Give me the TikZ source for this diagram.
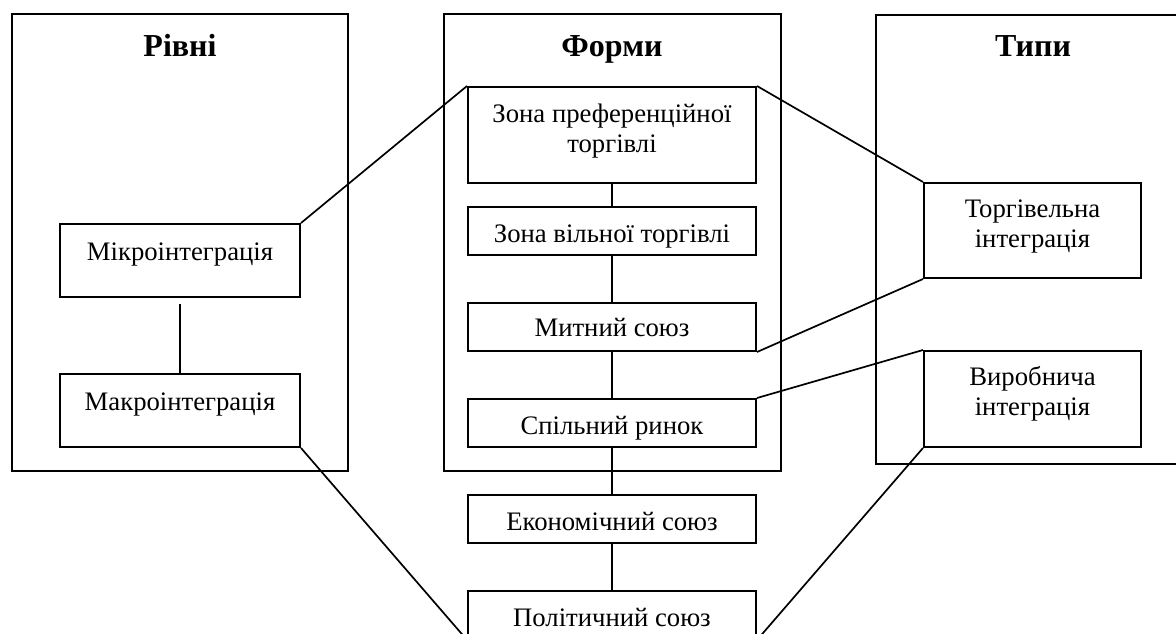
\documentclass[tikz,border=0pt]{standalone}
\usepackage{fontspec}
\setmainfont{Liberation Serif}
\usetikzlibrary{calc}
\begin{document}
\begin{tikzpicture}[x=1pt,y=-1pt,
  frame/.style={draw, line width=2pt, inner sep=0pt, anchor=north west},
  box/.style={draw, line width=2pt, fill=white, inner sep=0pt, anchor=north west},
  txt/.style={inner sep=0pt, anchor=base, font=\fontsize{26.7}{30}\selectfont},
  head/.style={inner sep=0pt, anchor=base, font=\fontsize{32}{36}\selectfont\bfseries},
  link/.style={line width=1.7pt}]
\useasboundingbox (0,0) rectangle (1176,634);

% outer frames
\node[frame, minimum width=336pt, minimum height=457pt] (lev) at (11,13) {};
\node[frame, minimum width=337pt, minimum height=457pt] (frm) at (443,13) {};
\node[frame, minimum width=330pt, minimum height=449pt] (typ) at (875,14) {};

% headings
\node[head] (levh) at (180,57) {Рівні};
\node[head] (frmh) at (612,57) {Форми};
\node[head] (typh) at (1033,57) {Типи};

% boxes
\node[box, minimum width=240pt, minimum height=73pt] (mikro) at (59,223) {};
\node[box, minimum width=240pt, minimum height=73pt] (makro) at (59,373) {};
\node[box, minimum width=288pt, minimum height=96pt] (pref) at (467,86) {};
\node[box, minimum width=288pt, minimum height=48pt] (free) at (467,206) {};
\node[box, minimum width=288pt, minimum height=48pt] (cust) at (467,302) {};
\node[box, minimum width=288pt, minimum height=48pt] (comm) at (467,398) {};
\node[box, minimum width=288pt, minimum height=48pt] (econ) at (467,494) {};
\node[box, minimum width=288pt, minimum height=48pt] (pol) at (467,590) {};
\node[box, minimum width=217pt, minimum height=95pt] (trade) at (923,182) {};
\node[box, minimum width=217pt, minimum height=96pt] (prod) at (923,350) {};

% texts
\node[txt] (mikrot) at ($(mikro.north)+(0,37)$) {Мікроінтеграція};
\node[txt] (makrot) at ($(makro.north)+(0,37)$) {Макроінтеграція};
\node[txt] (preft1) at ($(pref.north)+(0,36)$) {Зона преференційної};
\node[txt] (preft2) at ($(pref.north)+(0,66)$) {торгівлі};
\node[txt] (freet) at ($(free.north)+(0,36)$) {Зона вільної торгівлі};
\node[txt] (custt) at ($(cust.north)+(0,34)$) {Митний союз};
\node[txt] (commt) at ($(comm.north)+(0,36)$) {Спільний ринок};
\node[txt] (econt) at ($(econ.north)+(0,36)$) {Економічний союз};
\node[txt] (polt) at ($(pol.north)+(0,36)$) {Політичний союз};
\node[txt] (tradet1) at ($(trade.north)+(0,35)$) {Торгівельна};
\node[txt] (tradet2) at ($(trade.north)+(0,65)$) {інтеграція};
\node[txt] (prodt1) at ($(prod.north)+(0,35)$) {Виробнича};
\node[txt] (prodt2) at ($(prod.north)+(0,65)$) {інтеграція};

% vertical links
\draw[link, shorten <=6pt] (mikro.south) -- (makro.north);
\draw[link] (pref.south) -- (free.north);
\draw[link] (free.south) -- (cust.north);
\draw[link] (cust.south) -- (comm.north);
\draw[link] (comm.south) -- (econ.north);
\draw[link] (econ.south) -- (pol.north);

% diagonal links
\draw[link] (mikro.north east) -- (pref.north west);
\draw[link] (pref.north east) -- (trade.north west);
\draw[link] (cust.south east) -- (trade.south west);
\draw[link] (comm.north east) -- (prod.north west);
\draw[link] (makro.south east) -- (pol.south west);
\draw[link] (prod.south west) -- (pol.south east);
\end{tikzpicture}
\end{document}
